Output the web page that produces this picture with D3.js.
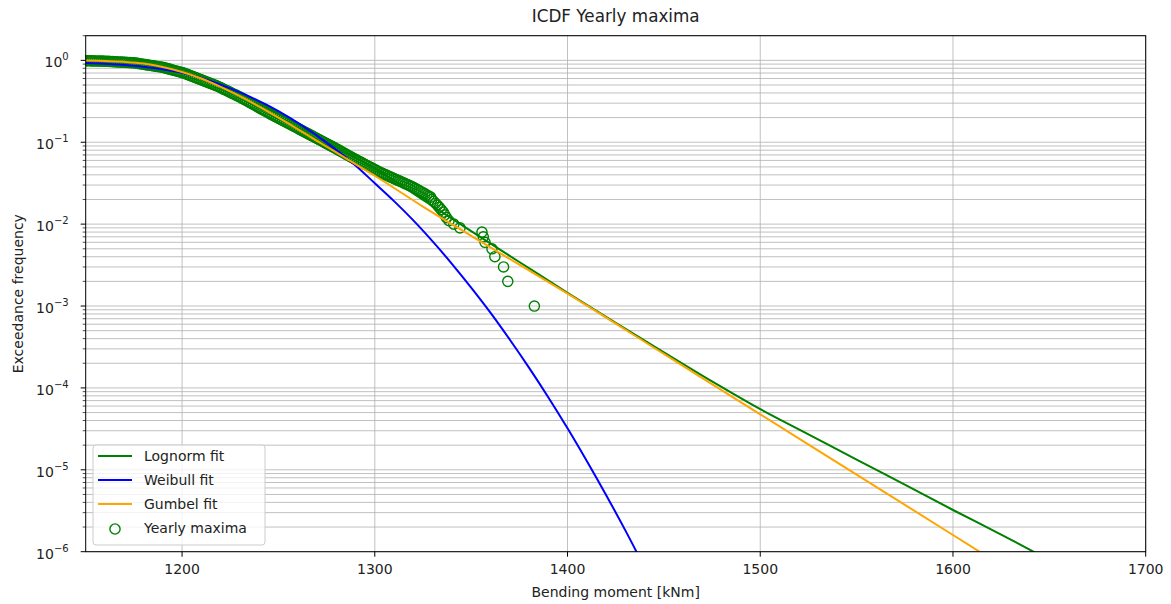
<!doctype html>
<html>
<head>
<meta charset="utf-8">
<script src="https://cdn.jsdelivr.net/npm/d3@7"></script>
<style>
  body { margin: 0; background: #fff; }
  text { font-family: "DejaVu Sans", sans-serif; fill: #222; }
</style>
</head>
<body>
<div id="chart"></div>
<script>
// ---- data ----
var xTicks = [1200, 1300, 1400, 1500, 1600, 1700];
var yDecades = [0, -1, -2, -3, -4, -5, -6];

// yearly maxima, sorted (bending moment) and their exceedance frequency
var maximaX = [1144,1145,1146,1147,1148,1149,1150,1151,1152,1153,1154,1155,1156,1157,1158,1159,1160,
  1161,1162,1163,1164,1165,1166,1167,1168,1169,1170,1171,1172,1173,1174,1175,
  1176,1177,1178,1179,1180,1181,1182,1183,1184,1185,1186,1187,1188,1189,1190,
  1191,1192,1193,1194,1195,1196,1197,1198,1199,1200,1201,
  1202,1203,1204,1205,1206,1207,1208,1209,1210,1211,1212,1213,1214,1215,1216,1217,1218,
  1219,1220,1221,1222,1223,1224,1225,1226,1227,1228,1229,1230,
  1231,1232,1233,1234,1235,1236,1237,1238,1239,1240,1241,1242,1243,1244,
  1245,1246,1247,1248,1249,1250,1251,1252,1253,1254,1255,1256,1257,1258,1259,1260,1261,1262,
  1263,1264,1265,1266,1267,1268,1269,1270,1271,1272,1273,1274,1275,1276,1277,1278,1279,
  1280,1281,1282,1283,1284,1285,1286,1287,1288,1289,1290,
  1291,1292,1293,1294,1295,1296,1297,1298,1299,1300,1301,1302,1303,
  1304,1305,1306,1307,1308,1309,1310,1311,1312,1313,1314,1315,1316,1317,1318,1319,1320,
  1321,1322,1323,1324,1325,1326,1327,1328,1329,
  1329.5,1330.5,1331.5,1332.5,1333.5,1334.5,1335.5,1336.3,1337.2,1338.5,1341,1344.2,
  1355.6,1356.3,1357.2,1360.8,1362.3,1366.8,1369,1382.8];
var maximaF = [1.0,0.998,0.996,0.994,0.993,0.992,0.990,0.989,0.988,0.986,0.985,0.984,0.982,0.981,0.980,0.979,0.977,
  0.974,0.971,0.968,0.965,0.962,0.959,0.956,0.953,0.951,0.948,0.945,0.942,0.939,0.936,0.933,
  0.925,0.918,0.910,0.902,0.895,0.887,0.880,0.872,0.865,0.858,0.851,0.843,0.836,0.829,0.822,
  0.810,0.798,0.787,0.775,0.764,0.753,0.742,0.731,0.721,0.710,0.700,
  0.685,0.671,0.657,0.643,0.630,0.617,0.604,0.591,0.579,0.567,0.555,0.543,0.532,0.521,0.510,0.499,0.489,
  0.476,0.464,0.452,0.440,0.429,0.418,0.407,0.396,0.386,0.376,0.366,0.357,
  0.346,0.336,0.326,0.317,0.307,0.298,0.289,0.281,0.272,0.264,0.256,0.249,0.241,0.234,
  0.2275,0.221,0.2148,0.2088,0.2029,0.1972,0.1916,0.1862,0.1810,0.1759,0.1709,0.1661,0.1614,0.1569,0.1525,0.1482,0.1440,0.1399,
  0.1360,0.1321,0.1284,0.1248,0.1212,0.1178,0.1145,0.1112,0.1081,0.1050,0.1021,0.0992,0.0964,0.0936,0.0910,0.0884,0.0859,
  0.0834,0.0809,0.0785,0.0761,0.0739,0.0717,0.0695,0.0675,0.0655,0.0635,0.0617,
  0.0600,0.0583,0.0567,0.0551,0.0535,0.0520,0.0506,0.0492,0.0478,0.0465,0.0452,0.0439,0.0427,
  0.0417,0.0407,0.0397,0.0387,0.0378,0.0369,0.0360,0.0351,0.0343,0.0335,0.0327,0.0319,0.0311,0.0304,0.0296,0.0289,0.0282,
  0.0273,0.0265,0.0257,0.0249,0.0242,0.0234,0.0227,0.0220,0.0214,
  0.020,0.019,0.018,0.017,0.016,0.015,0.014,0.013,0.012,0.011,0.010,0.009,
  0.008,0.007,0.006,0.005,0.004,0.003,0.002,0.001];

// fitted curves
var lognormX = [1150,1175,1200,1225,1250,1275,1300,1325,1350,1375,1400,1425,1450,1475,1500,1525,1550,1575,1600,1625,1650];
var lognormF = [0.99,0.93,0.72,0.45,0.225,0.102,0.048,0.0198,0.0082,0.00345,0.00145,6.24e-4,2.72e-4,1.2e-4,5.5e-5,2.71e-5,1.33e-5,6.6e-6,3.23e-6,1.62e-6,7.9e-7];

var weibullX = [1150,1175,1200,1225,1250,1275,1290,1300,1310,1320,1330,1340,1350,1360,1370,1380,1390,1400,1410,1420,1430,1440];
var weibullF = [0.93,0.86,0.705,0.455,0.24,0.099,0.052,0.0316,0.0191,0.0111,0.00615,0.00328,0.00168,8.3e-4,3.9e-4,1.77e-4,7.7e-5,3.21e-5,1.28e-5,4.93e-6,1.82e-6,6.4e-7];

var gumbelX = [1150,1160,1170,1180,1190,1200,1210,1220,1230,1240,1250,1260,1270,1280,1290,1300,1325,1350,1375,1400,1450,1500,1550,1600,1620];
var gumbelF = [0.995,0.985,0.96,0.915,0.83,0.72,0.6,0.475,0.365,0.272,0.2,0.145,0.104,0.075,0.054,0.039,0.0164,0.0072,0.0032,0.00142,2.6e-4,4.76e-5,8.73e-6,1.6e-6,8.1e-7];

// ---- layout ----
var W = 1171, H = 604;
var margin = {top: 35.7, right: 25.3, bottom: 52.3, left: 85.7},
    width = W - margin.left - margin.right,
    height = H - margin.top - margin.bottom;

var svg = d3.select("#chart").append("svg")
    .attr("width", W)
    .attr("height", H);

var g = svg.append("g")
    .attr("transform", "translate(" + margin.left + "," + margin.top + ")");

var x = d3.scaleLinear().domain([1150, 1700]).range([0, width]);
var y = d3.scaleLog().domain([1e-6, 2]).range([height, 0]);

// minor positions for the log axis
var minorTicks = [];
yDecades.forEach(function(d) {
  for (var m = 2; m <= 9; m++) {
    var v = m * Math.pow(10, d);
    if (v <= 2) minorTicks.push(v);
  }
});
var majorTicks = yDecades.map(function(d) { return Math.pow(10, d); });

// grid
g.append("g").selectAll("line")
  .data(minorTicks.concat(majorTicks))
  .enter().append("line")
    .attr("x1", 0).attr("x2", width)
    .attr("y1", function(d) { return y(d); })
    .attr("y2", function(d) { return y(d); })
    .attr("stroke", "#b0b0b0")
    .attr("stroke-width", 0.8);

g.append("g").selectAll("line")
  .data(xTicks)
  .enter().append("line")
    .attr("y1", 0).attr("y2", height)
    .attr("x1", function(d) { return x(d); })
    .attr("x2", function(d) { return x(d); })
    .attr("stroke", "#b0b0b0")
    .attr("stroke-width", 0.8);

// clip
svg.append("defs").append("clipPath").attr("id", "clip")
  .append("rect").attr("width", width).attr("height", height);

var plot = g.append("g").attr("clip-path", "url(#clip)");

// scatter
var pts = maximaX.map(function(v, i) { return [v, maximaF[i]]; });
plot.append("g").selectAll("circle")
  .data(pts)
  .enter().append("circle")
    .attr("cx", function(d) { return x(d[0]); })
    .attr("cy", function(d) { return y(d[1]); })
    .attr("r", 5.1)
    .attr("fill", "none")
    .attr("stroke", "green")
    .attr("stroke-width", 1.4);

// fitted lines
var line = d3.line()
    .x(function(d) { return x(d[0]); })
    .y(function(d) { return y(d[1]); })
    .curve(d3.curveMonotoneX);

function addFit(xs, fs, color) {
  plot.append("path")
    .datum(xs.map(function(v, i) { return [v, fs[i]]; }))
    .attr("d", line)
    .attr("fill", "none")
    .attr("stroke", color)
    .attr("stroke-width", 2);
}
addFit(lognormX, lognormF, "green");
addFit(weibullX, weibullF, "blue");
addFit(gumbelX, gumbelF, "orange");

// axes frame
g.append("rect")
  .attr("width", width).attr("height", height)
  .attr("fill", "none").attr("stroke", "#000").attr("stroke-width", 1);

// x ticks
var xt = g.append("g").selectAll("g")
  .data(xTicks)
  .enter().append("g")
    .attr("transform", function(d) { return "translate(" + x(d) + "," + height + ")"; });
xt.append("line").attr("y2", 5).attr("stroke", "#000");
xt.append("text")
  .attr("y", 22)
  .attr("text-anchor", "middle")
  .style("font-size", "14px")
  .text(function(d) { return d; });

// y ticks
g.append("g").selectAll("line")
  .data(minorTicks)
  .enter().append("line")
    .attr("x1", -3).attr("x2", 0)
    .attr("y1", function(d) { return y(d); })
    .attr("y2", function(d) { return y(d); })
    .attr("stroke", "#000").attr("stroke-width", 0.7);

var yt = g.append("g").selectAll("g")
  .data(yDecades)
  .enter().append("g")
    .attr("transform", function(d) { return "translate(0," + y(Math.pow(10, d)) + ")"; });
yt.append("line").attr("x1", -5).attr("x2", 0).attr("stroke", "#000");
var ylab = yt.append("text")
  .attr("x", -17)
  .attr("y", 7)
  .attr("text-anchor", "end")
  .style("font-size", "14px");
ylab.append("tspan").text("10");
ylab.append("tspan")
  .attr("dy", -7)
  .style("font-size", "10px")
  .text(function(d) { return d === 0 ? "0" : "\u2212" + (-d); });

// labels
svg.append("text")
  .attr("x", margin.left + width / 2)
  .attr("y", 22)
  .attr("text-anchor", "middle")
  .style("font-size", "16.8px")
  .text("ICDF Yearly maxima");

svg.append("text")
  .attr("x", margin.left + width / 2)
  .attr("y", 597)
  .attr("text-anchor", "middle")
  .style("font-size", "14px")
  .text("Bending moment [kNm]");

svg.append("text")
  .attr("transform", "translate(23," + (margin.top + height / 2) + ") rotate(-90)")
  .attr("text-anchor", "middle")
  .style("font-size", "14px")
  .text("Exceedance frequency");

// legend
var leg = svg.append("g").attr("transform", "translate(93,445)");
leg.append("rect")
  .attr("width", 172).attr("height", 100)
  .attr("rx", 3)
  .attr("fill", "#fff").attr("fill-opacity", 0.8)
  .attr("stroke", "#cccccc").attr("stroke-width", 1);

var legItems = [
  {label: "Lognorm fit", color: "green", type: "line"},
  {label: "Weibull fit", color: "blue", type: "line"},
  {label: "Gumbel fit", color: "orange", type: "line"},
  {label: "Yearly maxima", color: "green", type: "dot"}
];
var li = leg.selectAll("g.item")
  .data(legItems)
  .enter().append("g")
    .attr("class", "item")
    .attr("transform", function(d, i) { return "translate(0," + (11 + i * 24) + ")"; });
li.filter(function(d) { return d.type === "line"; })
  .append("line")
    .attr("x1", 5).attr("x2", 39)
    .attr("stroke", function(d) { return d.color; })
    .attr("stroke-width", 2);
li.filter(function(d) { return d.type === "dot"; })
  .append("circle")
    .attr("cx", 22).attr("cy", 1).attr("r", 5.1)
    .attr("fill", "none")
    .attr("stroke", function(d) { return d.color; })
    .attr("stroke-width", 1.4);
li.append("text")
  .attr("x", 51).attr("y", 5)
  .style("font-size", "14px")
  .text(function(d) { return d.label; });
</script>
</body>
</html>
